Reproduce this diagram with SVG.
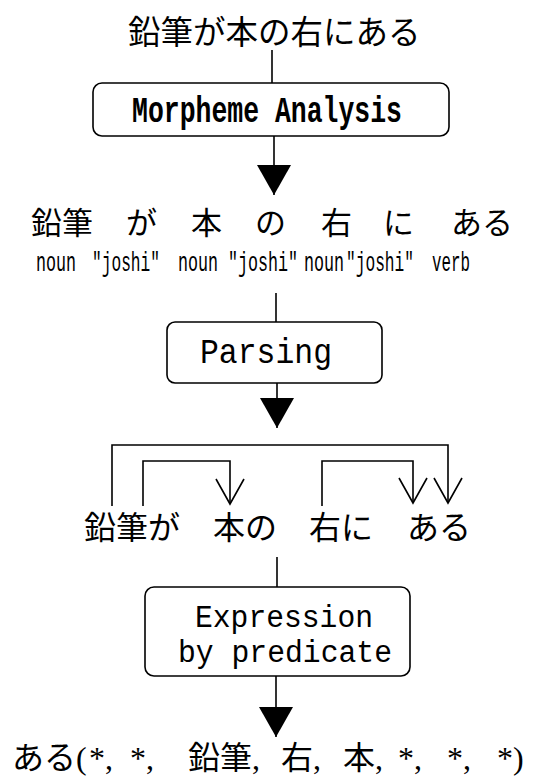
<svg xmlns="http://www.w3.org/2000/svg" width="552" height="779" viewBox="0 0 552 779">
<style>
.jp{font-family:"Noto Sans CJK JP","Liberation Serif",sans-serif;fill:#000}
.mix{font-family:"Liberation Serif","Noto Sans CJK JP",serif;fill:#000}
.mono{font-family:"Liberation Mono",monospace;fill:#000}
.box{fill:#fff;stroke:#000;stroke-width:1.6}
.ln{fill:none;stroke:#000;stroke-width:1.6}
</style>
<defs>
<marker id="solid" markerUnits="userSpaceOnUse" viewBox="-31 -18 32 36" refX="0" refY="0" markerWidth="32" markerHeight="36" orient="auto">
<path d="M-30,-17 L0,0 L-30,17 Z" fill="#000"/>
</marker>
<marker id="open" markerUnits="userSpaceOnUse" viewBox="-27 -16 29 32" refX="0" refY="0" markerWidth="29" markerHeight="32" orient="auto">
<path d="M-25,-14 L0,0 L-25,14" fill="none" stroke="#000" stroke-width="1.6"/>
</marker>
</defs>
<rect width="552" height="779" fill="#fff"/>

<g id="connectors">
<line class="ln" x1="272" y1="50" x2="272" y2="83"/>
<line class="ln" x1="274" y1="136" x2="274" y2="195" marker-end="url(#solid)"/>
<line class="ln" x1="276" y1="293" x2="276" y2="322"/>
<line class="ln" x1="277" y1="383" x2="277" y2="428" marker-end="url(#solid)"/>
<line class="ln" x1="277" y1="557" x2="277" y2="587"/>
<line class="ln" x1="276" y1="676" x2="276" y2="737" marker-end="url(#solid)"/>
<polyline class="ln" points="112,506 112,445 448,445 448,503" marker-end="url(#open)"/>
<polyline class="ln" points="143,506 143,461 230,461 230,504" marker-end="url(#open)"/>
<polyline class="ln" points="322,506 322,461 413,461 413,503" marker-end="url(#open)"/>
</g>

<g id="sentence">
<text class="jp" x="128" y="44" font-size="32.5">鉛筆が本の右にある</text>
</g>

<g id="morpheme-analysis">
<rect class="box" x="93" y="83" width="356" height="53" rx="9"/>
<text class="mono" font-weight="bold" font-size="26.5" transform="translate(132,122) scale(1,1.4)" textLength="270" lengthAdjust="spacingAndGlyphs">Morpheme Analysis</text>
</g>

<g id="morphemes">
<text class="jp" font-size="31" y="234"><tspan x="31">鉛筆</tspan><tspan x="126">が</tspan><tspan x="191">本</tspan><tspan x="255">の</tspan><tspan x="321">右</tspan><tspan x="383">に</tspan><tspan x="451">ある</tspan></text>
<g class="mono" font-size="17">
<text transform="translate(36,271) scale(1,1.6)" textLength="40" lengthAdjust="spacingAndGlyphs">noun</text>
<text transform="translate(92,271) scale(1,1.6)" textLength="68" lengthAdjust="spacingAndGlyphs">"joshi"</text>
<text transform="translate(178,271) scale(1,1.6)" textLength="40" lengthAdjust="spacingAndGlyphs">noun</text>
<text transform="translate(228,271) scale(1,1.6)" textLength="70" lengthAdjust="spacingAndGlyphs">"joshi"</text>
<text transform="translate(304,271) scale(1,1.6)" textLength="40" lengthAdjust="spacingAndGlyphs">noun</text>
<text transform="translate(346,271) scale(1,1.6)" textLength="68" lengthAdjust="spacingAndGlyphs">"joshi"</text>
<text transform="translate(432,271) scale(1,1.6)" textLength="38" lengthAdjust="spacingAndGlyphs">verb</text>
</g>
</g>

<g id="parsing">
<rect class="box" x="167" y="322" width="215" height="61" rx="8"/>
<text class="mono" font-size="31.4" transform="translate(200,363) scale(1,1.1)" textLength="132" lengthAdjust="spacingAndGlyphs">Parsing</text>
</g>

<g id="phrases">
<text class="jp" font-size="32" y="539"><tspan x="84">鉛筆が</tspan><tspan x="213">本の</tspan><tspan x="309">右に</tspan><tspan x="407">ある</tspan></text>
</g>

<g id="expression">
<rect class="box" x="145" y="587" width="265" height="89" rx="9"/>
<text class="mono" font-size="29.7" transform="translate(195,627) scale(1,1.08)" textLength="178" lengthAdjust="spacingAndGlyphs">Expression</text>
<text class="mono" font-size="29.7" transform="translate(178,662) scale(1,1.08)" textLength="214" lengthAdjust="spacingAndGlyphs">by predicate</text>
</g>

<g id="predicate" class="mix" font-size="32">
<text x="12" y="769">ある(</text>
<text x="89" y="769">*,</text>
<text x="130" y="769">*,</text>
<text x="188" y="769">鉛筆,</text>
<text x="281" y="769">右,</text>
<text x="343" y="769">本,</text>
<text x="398" y="769">*,</text>
<text x="447" y="769">*,</text>
<text x="497" y="769">*)</text>
</g>
</svg>
